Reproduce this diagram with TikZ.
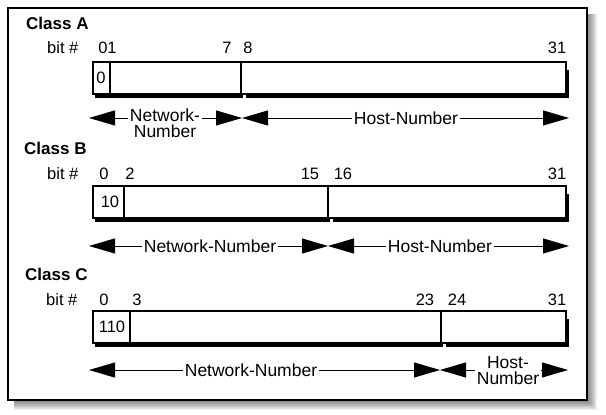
\documentclass[tikz,border=0pt]{standalone}
\usepackage{fontspec}
\setmainfont{Liberation Sans}
\usetikzlibrary{arrows.meta}
\begin{document}
\begin{tikzpicture}[x=1pt,y=-1pt,
  lbl/.style={font=\fontsize{17.5}{16}\selectfont, inner sep=2pt, align=center},
  num/.style={font=\fontsize{16.5}{16}\selectfont, inner sep=0pt},
  ttl/.style={font=\bfseries\fontsize{17}{17}\selectfont, anchor=west, inner sep=0pt},
  fieldbox/.style={draw=black, line width=1.4pt, fill=white},
  shad/.style={fill=black},
  arr/.style={line width=1pt, -{Triangle[length=26pt,width=15pt]}},
]
\useasboundingbox (0,0) rectangle (606,415);
\fill[white] (0,0) rectangle (606,415);
% frame with soft shadow
\foreach \k in {1,...,10} \fill[black, opacity=0.06] (14,14) rectangle ({587+\k},{400+\k});
\draw[line width=1.3pt, fill=white] (8,8) rectangle (587,400);

% ---------- Class A ----------
\node[ttl] (tA) at (26,23) {Class A};
\node[num, anchor=west] (bA) at (47,48) {bit \#};
\node[num] (a0) at (103,48) {0};
\node[num] (a1) at (112,48) {1};
\node[num] (a7) at (227,48) {7};
\node[num] (a8) at (248,48) {8};
\node[num] (a31) at (557,48) {31};
\fill[shad] (95,70) rectangle (243,98);
\fill[shad] (246,70) rectangle (569,98);
\draw[fieldbox] (93,62) rectangle (241,94);
\draw[fieldbox] (241,62) rectangle (566,94);
\draw[line width=1.4pt] (110,62) -- (110,94);
\node[num] (vA) at (101,78) {0};
\coordinate (aL) at (89,118);
\coordinate (aM) at (242,118);
\coordinate (aR) at (569,118);
\node[lbl] (aNet) at (165,123) {Network-\\Number};
\node[lbl] (aHost) at (406,118) {Host-Number};
\draw[arr] (aNet.west |- aL) -- (aL);
\draw[arr] (aNet.east |- aM) -- (aM);
\draw[arr] (aHost.west) -- (aM);
\draw[arr] (aHost.east) -- (aR);

% ---------- Class B ----------
\node[ttl] (tB) at (24,148) {Class B};
\node[num, anchor=west] (bB) at (47,174) {bit \#};
\node[num] (b0) at (104,174) {0};
\node[num] (b2) at (130,174) {2};
\node[num] (b15) at (310,174) {15};
\node[num] (b16) at (343,174) {16};
\node[num] (b31) at (557,174) {31};
\fill[shad] (95,194) rectangle (330,222);
\fill[shad] (333,194) rectangle (569,222);
\draw[fieldbox] (93,186) rectangle (328,218);
\draw[fieldbox] (328,186) rectangle (566,218);
\draw[line width=1.4pt] (124,186) -- (124,218);
\node[num] (vB) at (110,202) {10};
\coordinate (bL) at (89,246);
\coordinate (bM) at (328,246);
\coordinate (bR) at (569,246);
\node[lbl] (bNet) at (210,246) {Network-Number};
\node[lbl] (bHost) at (440,246) {Host-Number};
\draw[arr] (bNet.west) -- (bL);
\draw[arr] (bNet.east) -- (bM);
\draw[arr] (bHost.west) -- (bM);
\draw[arr] (bHost.east) -- (bR);

% ---------- Class C ----------
\node[ttl] (tC) at (25,274) {Class C};
\node[num, anchor=west] (bC) at (46,300) {bit \#};
\node[num] (c0) at (104,300) {0};
\node[num] (c3) at (137,300) {3};
\node[num] (c23) at (425,300) {23};
\node[num] (c24) at (457,300) {24};
\node[num] (c31) at (557,300) {31};
\fill[shad] (95,319) rectangle (443,347);
\fill[shad] (446,319) rectangle (569,347);
\draw[fieldbox] (93,311) rectangle (441,343);
\draw[fieldbox] (441,311) rectangle (566,343);
\draw[line width=1.4pt] (130,311) -- (130,343);
\node[num] (vC) at (112,327) {110};
\coordinate (cL) at (89,370);
\coordinate (cM) at (440,370);
\coordinate (cR) at (568,370);
\node[lbl] (cNet) at (251,370) {Network-Number};
\node[lbl] (cHost) at (508,371) {Host-\\Number};
\draw[arr] (cNet.west) -- (cL);
\draw[arr] (cNet.east) -- (cM);
\draw[arr] (cHost.west |- cM) -- (cM);
\draw[arr] (cHost.east |- cR) -- (cR);
\end{tikzpicture}
\end{document}
